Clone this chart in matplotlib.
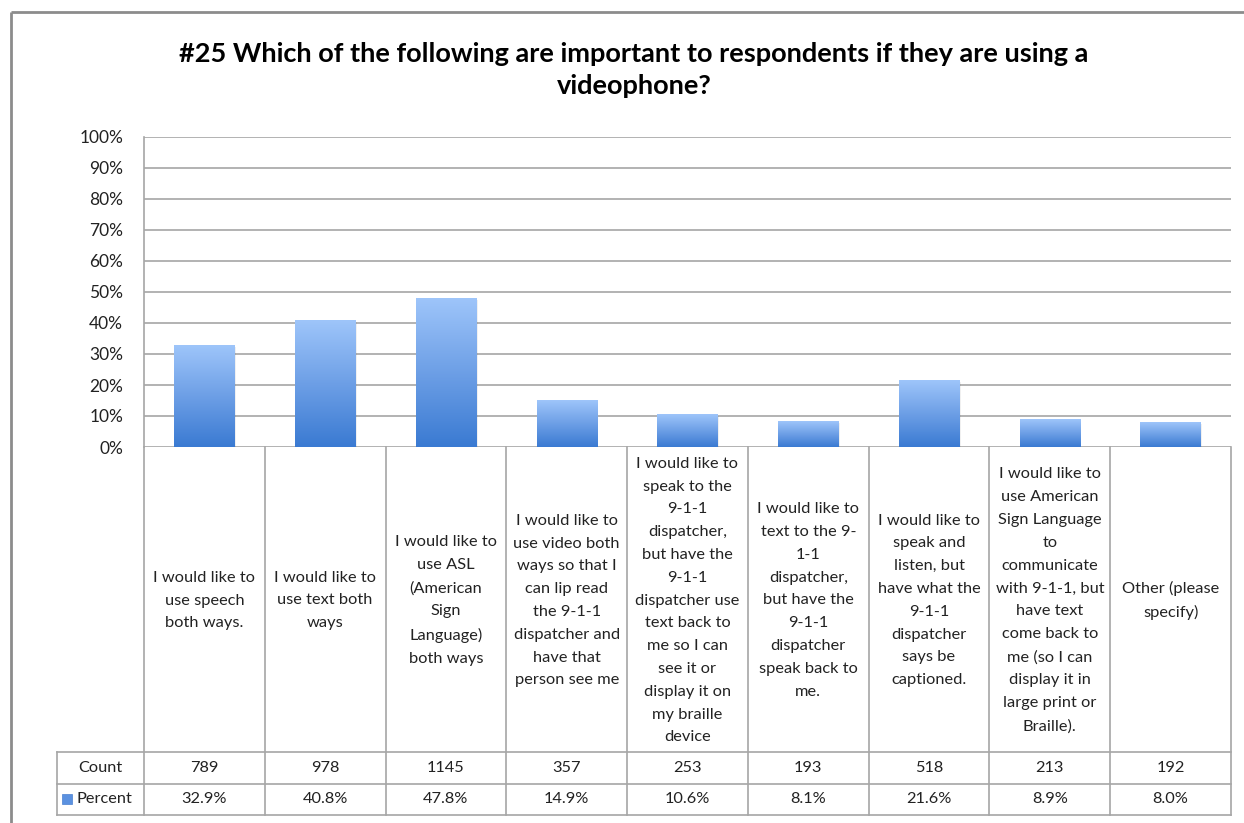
import numpy as np
import matplotlib.pyplot as plt
from matplotlib.colors import LinearSegmentedColormap
from matplotlib.lines import Line2D
from matplotlib.patches import Rectangle

categories = [
    "I would like to\nuse speech\nboth ways.",
    "I would like to\nuse text both\nways",
    "I would like to\nuse ASL\n(American\nSign\nLanguage)\nboth ways",
    "I would like to\nuse video both\nways so that I\ncan lip read\nthe 9-1-1\ndispatcher and\nhave that\nperson see me",
    "I would like to\nspeak to the\n9-1-1\ndispatcher,\nbut have the\n9-1-1\ndispatcher use\ntext back to\nme so I can\nsee it or\ndisplay it on\nmy braille\ndevice",
    "I would like to\ntext to the 9-\n1-1\ndispatcher,\nbut have the\n9-1-1\ndispatcher\nspeak back to\nme.",
    "I would like to\nspeak and\nlisten, but\nhave what the\n9-1-1\ndispatcher\nsays be\ncaptioned.",
    "I would like to\nuse American\nSign Language\nto\ncommunicate\nwith 9-1-1, but\nhave text\ncome back to\nme (so I can\ndisplay it in\nlarge print or\nBraille).",
    "Other (please\nspecify)",
]
counts = [789, 978, 1145, 357, 253, 193, 518, 213, 192]
percents = [32.9, 40.8, 47.8, 14.9, 10.6, 8.1, 21.6, 8.9, 8.0]
y_ticks = list(range(0, 101, 10))

title = ("#25 Which of the following are important to respondents if they are using a\n"
         "videophone?")

plt.rcParams['font.family'] = ['Lato', 'DejaVu Sans']

W, H = 1244, 823
fig = plt.figure(figsize=(W / 100, H / 100), dpi=100)


def px_box(x0, y0, x1, y1):
    return [x0 / W, 1 - y1 / H, (x1 - x0) / W, (y1 - y0) / H]


grid_c = "#a6a6a6"
text_c = "#222222"
bar_cmap = LinearSegmentedColormap.from_list("bar", ["#3a7ad2", "#6d9fe6", "#9ec5fa"])

# outer chart frame (open on the right)
fig.add_artist(Line2D([11 / W, 1.0], [1 - 12 / H, 1 - 12 / H], color="#8c8c8c",
                      lw=2, solid_capstyle="butt"))
fig.add_artist(Line2D([11 / W, 11 / W], [0, 1 - 12 / H], color="#8c8c8c", lw=2,
                      solid_capstyle="butt"))

fig.text(634 / W, 1 - 70 / H, title, ha="center", va="center",
         fontsize=19.5, fontweight="bold", linespacing=1.45)

# bar chart
n = len(categories)
ax = fig.add_axes(px_box(144, 137, 1231, 447))
grad = bar_cmap(np.linspace(1, 0, 256)).reshape(256, 1, 4)
for i, v in enumerate(percents):
    ax.add_patch(Rectangle((i - 0.25 + 0.012, -0.5), 0.5, v, color="#000000",
                           alpha=0.06, lw=0, zorder=2))
    ax.imshow(grad, extent=[i - 0.25, i + 0.25, 0, v], aspect="auto",
              interpolation="bilinear", zorder=3)
ax.set_xlim(-0.5, n - 0.5)
ax.set_ylim(0, 100)
ax.set_yticks(y_ticks)
ax.set_yticklabels([f"{t}%" for t in y_ticks], fontsize=12.5, color=text_c)
ax.tick_params(axis="y", length=0, pad=15)
ax.set_xticks([])
ax.yaxis.grid(True, color=grid_c, lw=1.2)
ax.set_axisbelow(True)
for s in ["top", "right", "bottom"]:
    ax.spines[s].set_visible(False)
ax.spines["left"].set_color(grid_c)
ax.spines["left"].set_linewidth(1.2)

# data table under the bars
tab = fig.add_axes(px_box(144, 447, 1231, 815))
label_h, row_h = 305, 31.5
total_h = label_h + 2 * row_h
tab.set_xlim(-0.5, n - 0.5)
tab.set_ylim(total_h, 0)
tab.axis("off")
left_x = -0.5 - 87 / (1087 / n)

for k in range(n + 1):
    tab.plot([k - 0.5, k - 0.5], [0, total_h], color=grid_c, lw=1.2, clip_on=False)
tab.plot([left_x, left_x], [label_h, total_h], color=grid_c, lw=1.2, clip_on=False)
for yy in [label_h, label_h + row_h, total_h]:
    tab.plot([left_x, n - 0.5], [yy, yy], color=grid_c, lw=1.2, clip_on=False)

for i, lab in enumerate(categories):
    tab.text(i, label_h / 2 + 1, lab, ha="center", va="center", fontsize=11.8,
             linespacing=1.8, color=text_c)
    tab.text(i, label_h + row_h / 2, str(counts[i]), ha="center", va="center",
             fontsize=11.8, color=text_c)
    tab.text(i, label_h + row_h * 1.5, f"{percents[i]:.1f}%", ha="center",
             va="center", fontsize=11.8, color=text_c)

mid_left = (left_x - 0.5) / 2
tab.text(mid_left, label_h + row_h / 2, "Count", ha="center", va="center",
         fontsize=11.8, color=text_c, clip_on=False)
tab.text(left_x + 0.165, label_h + row_h * 1.5, "Percent", ha="left", va="center",
         fontsize=11.8, color=text_c, clip_on=False)
tab.add_patch(Rectangle((left_x + 0.04, label_h + row_h * 1.5 - 5), 0.085, 10,
                        facecolor="#5b91e0", edgecolor="#4a80d0", lw=0.5, clip_on=False))

fig.savefig("out.png", dpi=100)
